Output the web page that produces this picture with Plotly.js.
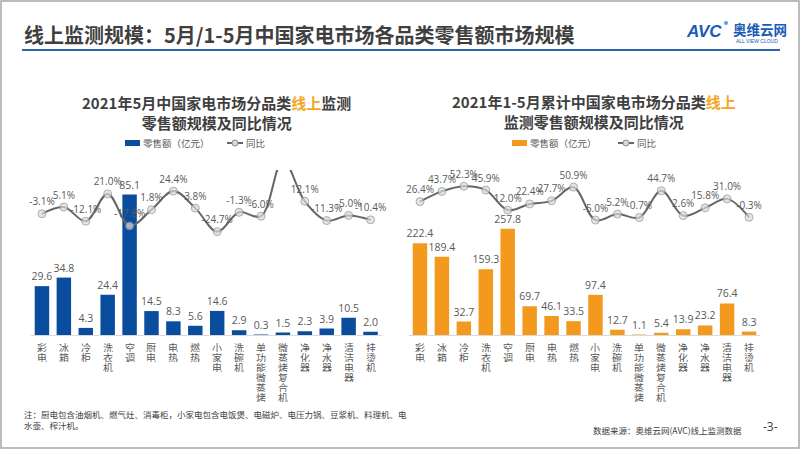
<!DOCTYPE html>
<html>
<head>
<meta charset="utf-8">
<script src="https://cdn.plot.ly/plotly-3.0.1.min.js"></script>
<style>
html,body{margin:0;padding:0;background:#fff;}
#chart{width:802px;height:451px;}
</style>
</head>
<body>
<div id="chart"></div>
<script>
// ---- data ----
const categories = ['彩电','冰箱','冷柜','洗衣机','空调','厨电','电热','燃热','小家电','洗碗机','单功能微蒸烤','微蒸烤复合机','净化器','净水器','清洁电器','挂烫机'];
const mayRetail = [29.6, 34.8, 4.3, 24.4, 85.1, 14.5, 8.3, 5.6, 14.6, 2.9, 0.3, 1.5, 2.3, 3.9, 10.5, 2.0];
const mayYoY = [-3.1, 5.1, -12.1, 21.0, -17.8, 1.8, 24.4, 3.8, -24.7, -1.3, -6.0, 62.0, 12.1, -11.3, -5.0, -10.4];
const ytdRetail = [222.4, 189.4, 32.7, 159.3, 257.8, 69.7, 46.1, 33.5, 97.4, 12.7, 1.1, 5.4, 13.9, 23.2, 76.4, 8.3];
const ytdYoY = [26.4, 43.7, 52.3, 45.9, 12.0, 22.4, 27.7, 50.9, -5.0, 5.2, -0.7, 44.7, 2.6, 15.8, 31.0, -0.3];

const W = 802, H = 451;
const px = v => v / W;
const py = v => 1 - v / H;

const CJK = '"Noto Sans CJK SC", "Noto Sans", sans-serif';
const NUM = '"Open Sans", "Noto Sans", sans-serif';
const GRAY = '#595959';
const BLUE = '#0a4d9f';
const ORANGE = '#f39a1e';
const HL = '#f5a623';
const LINE = '#666666';

const RANGE_L_BAR = [0, 100], RANGE_L_YOY = [-150, 50];
const RANGE_R_BAR = [0, 400], RANGE_R_YOY = [-200, 80];

function barTrace(y, xa, ya, color) {
  return {
    type: 'bar', x: categories, y: y, xaxis: xa, yaxis: ya,
    marker: {color: color},
    texttemplate: '%{y:.1f}', textposition: 'outside', constraintext: 'none',
    textfont: {family: NUM, size: 10.5, color: GRAY},
    cliponaxis: false, hoverinfo: 'skip'
  };
}
// the curve itself is clipped to the plot area
function lineTrace(y, xa, ya) {
  return {
    type: 'scatter', mode: 'lines', x: categories, y: y, xaxis: xa, yaxis: ya,
    line: {color: LINE, width: 2, shape: 'spline', smoothing: 1},
    hoverinfo: 'skip'
  };
}
// markers + labels; points beyond the axis top are not shown (as in the source)
function pointTrace(y, xa, ya, range) {
  const inside = y.map(v => v <= range[1]);
  return {
    type: 'scatter', mode: 'markers+text', x: categories, y: y, xaxis: xa, yaxis: ya,
    marker: {size: inside.map(k => k ? 8 : 0), color: '#d9d9d9', line: {color: '#8c8c8c', width: 1}},
    texttemplate: inside.map(k => k ? '%{y:.1f}%' : ''), textposition: 'top center',
    textfont: {family: NUM, size: 10, color: GRAY},
    cliponaxis: false, hoverinfo: 'skip'
  };
}

const data = [
  barTrace(mayRetail, 'x', 'y', BLUE),
  lineTrace(mayYoY, 'x', 'y2'),
  pointTrace(mayYoY, 'x', 'y2', RANGE_L_YOY),
  barTrace(ytdRetail, 'x2', 'y3', ORANGE),
  lineTrace(ytdYoY, 'x2', 'y4'),
  pointTrace(ytdYoY, 'x2', 'y4', RANGE_R_YOY)
];

const yDom = [py(335), py(170)];
const catRange = [-0.5, categories.length - 0.5];
const xBase = {showticklabels: false, ticks: '', showgrid: false, zeroline: false,
  showline: true, linecolor: '#d9d9d9', linewidth: 1, fixedrange: true, range: catRange, autorange: false};
const yBase = {visible: false, showgrid: false, zeroline: false, fixedrange: true, autorange: false};

const annotations = [];
const shapes = [];

// vertical category labels (one character per line)
function addVerticalLabels(xref, yref) {
  categories.forEach(cat => {
    Array.from(cat).forEach((ch, j) => {
      annotations.push({
        x: cat, xref: xref, y: 0, yref: yref, yanchor: 'top', xanchor: 'center',
        yshift: -(6 + j * 10), text: ch, showarrow: false, height: 10, borderpad: 0,
        font: {family: CJK, size: 10, color: GRAY}
      });
    });
  });
}
addVerticalLabels('x', 'y');
addVerticalLabels('x2', 'y3');

// page header
annotations.push({xref: 'paper', yref: 'paper', x: px(22), y: py(34), xanchor: 'left', yanchor: 'middle',
  text: '线上监测规模：5月/1-5月中国家电市场各品类零售额市场规模', showarrow: false,
  font: {family: CJK, size: 20, color: '#3f3f3f', weight: 'bold'}});
annotations.push({xref: 'paper', yref: 'paper', x: px(684), y: py(32), xanchor: 'left', yanchor: 'middle',
  text: '<i>AVC</i>', showarrow: false,
  font: {family: '"Liberation Sans", Arial, sans-serif', size: 17, color: '#1a5bb5', weight: 'bold'}});
annotations.push({xref: 'paper', yref: 'paper', x: px(731), y: py(29), xanchor: 'left', yanchor: 'middle',
  text: '奥维云网', showarrow: false,
  font: {family: CJK, size: 13.5, color: '#1a5bb5', weight: 'bold'}});
annotations.push({xref: 'paper', yref: 'paper', x: px(757), y: py(41), xanchor: 'center', yanchor: 'middle',
  text: 'ALL VIEW CLOUD', showarrow: false,
  font: {family: '"Liberation Sans", Arial, sans-serif', size: 5, color: '#1a5bb5'}});
shapes.push({type: 'circle', xref: 'paper', yref: 'paper', x0: px(724), x1: px(728), y0: py(21), y1: py(25),
  fillcolor: '#3fa9f5', line: {width: 0}});
shapes.push({type: 'line', xref: 'paper', yref: 'paper', x0: px(22), x1: px(780), y0: py(50), y1: py(50),
  line: {color: '#2d64ab', width: 2}});
// page border
shapes.push({type: 'rect', xref: 'paper', yref: 'paper', x0: px(1), x1: px(799), y0: py(1), y1: py(448),
  line: {color: '#a6a6a6', width: 1.5}});

// chart titles
annotations.push({xref: 'paper', yref: 'paper', x: px(216), y: py(112.5), xanchor: 'center', yanchor: 'middle',
  text: '2021年5月中国家电市场分品类<span style="color:' + HL + '">线上</span>监测<br>零售额规模及同比情况',
  showarrow: false, font: {family: CJK, size: 15, color: '#3f3f3f', weight: 'bold'}});
annotations.push({xref: 'paper', yref: 'paper', x: px(594), y: py(112), xanchor: 'center', yanchor: 'middle',
  text: '2021年1-5月累计中国家电市场分品类<span style="color:' + HL + '">线上</span><br>监测零售额规模及同比情况',
  showarrow: false, font: {family: CJK, size: 15, color: '#3f3f3f', weight: 'bold'}});

// legends
function addLegend(x0, color, lineX0) {
  shapes.push({type: 'rect', xref: 'paper', yref: 'paper', x0: px(x0), x1: px(x0 + 15), y0: py(146), y1: py(140),
    fillcolor: color, line: {width: 0}});
  annotations.push({xref: 'paper', yref: 'paper', x: px(x0 + 16), y: py(143), xanchor: 'left', yanchor: 'middle',
    text: '零售额（亿元）', showarrow: false, font: {family: CJK, size: 9.5, color: GRAY}});
  shapes.push({type: 'line', xref: 'paper', yref: 'paper', x0: px(lineX0), x1: px(lineX0 + 16), y0: py(143), y1: py(143),
    line: {color: LINE, width: 2}});
  shapes.push({type: 'circle', xref: 'paper', yref: 'paper', x0: px(lineX0 + 5), x1: px(lineX0 + 11), y0: py(146), y1: py(140),
    fillcolor: '#d9d9d9', line: {color: '#8c8c8c', width: 1}});
  annotations.push({xref: 'paper', yref: 'paper', x: px(lineX0 + 17), y: py(143), xanchor: 'left', yanchor: 'middle',
    text: '同比', showarrow: false, font: {family: CJK, size: 9.5, color: GRAY}});
}
addLegend(125, BLUE, 227);
addLegend(512, ORANGE, 618);

// footnotes
annotations.push({xref: 'paper', yref: 'paper', x: px(22), y: py(419), xanchor: 'left', yanchor: 'middle', align: 'left',
  text: '注：厨电包含油烟机、燃气灶、消毒柜，小家电包含电饭煲、电磁炉、电压力锅、豆浆机、料理机、电<br>水壶、榨汁机。',
  showarrow: false, font: {family: CJK, size: 8.5, color: '#404040'}});
annotations.push({xref: 'paper', yref: 'paper', x: px(744), y: py(430), xanchor: 'right', yanchor: 'middle',
  text: '数据来源：奥维云网(AVC)线上监测数据', showarrow: false, font: {family: CJK, size: 8.5, color: '#404040'}});
annotations.push({xref: 'paper', yref: 'paper', x: px(770), y: py(426), xanchor: 'center', yanchor: 'middle',
  text: '-3-', showarrow: false, font: {family: NUM, size: 12, color: '#404040'}});

const layout = {
  width: W, height: H,
  margin: {l: 0, r: 0, t: 0, b: 0},
  paper_bgcolor: '#ffffff', plot_bgcolor: 'rgba(0,0,0,0)',
  showlegend: false, bargap: 0.34,
  xaxis: Object.assign({}, xBase, {domain: [px(31), px(381.5)], anchor: 'y'}),
  yaxis: Object.assign({}, yBase, {domain: yDom, range: RANGE_L_BAR, anchor: 'x'}),
  yaxis2: Object.assign({}, yBase, {overlaying: 'y', range: RANGE_L_YOY, anchor: 'x'}),
  xaxis2: Object.assign({}, xBase, {domain: [px(409), px(760)], anchor: 'y3'}),
  yaxis3: Object.assign({}, yBase, {domain: yDom, range: RANGE_R_BAR, anchor: 'x2'}),
  yaxis4: Object.assign({}, yBase, {overlaying: 'y3', range: RANGE_R_YOY, anchor: 'x2'}),
  annotations: annotations,
  shapes: shapes,
  font: {family: CJK}
};

Plotly.newPlot('chart', data, layout, {staticPlot: true, displayModeBar: false});
</script>
</body>
</html>
